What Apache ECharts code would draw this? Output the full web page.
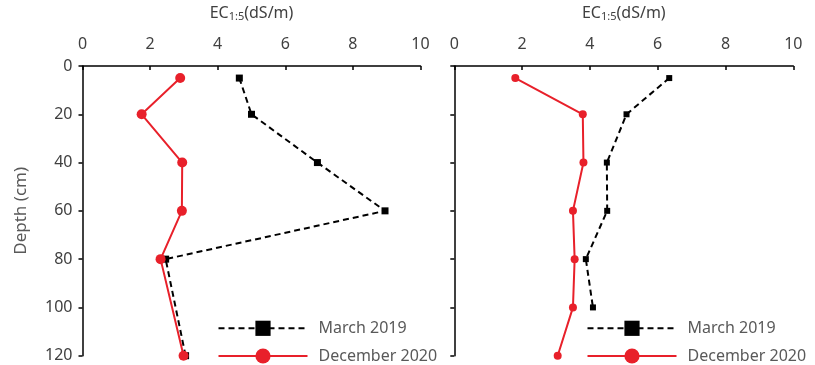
<!DOCTYPE html>
<html><head><meta charset="utf-8">
<script src="https://cdn.jsdelivr.net/npm/echarts@6/dist/echarts.min.js"></script>
<style>html,body{margin:0;padding:0;background:#fff}#c{width:815px;height:365px}</style>
</head><body><div id="c"></div>
<script>
// Data
const xTicks = [0, 2, 4, 6, 8, 10];
const depthTicks = [0, 20, 40, 60, 80, 100, 120];
const leftMarchDepth = [5, 20, 40, 60, 80, 120];
const leftMarchEC = [4.64, 5.0, 6.95, 8.95, 2.46, 3.05];
const leftDecDepth = [5, 20, 40, 60, 80, 120];
const leftDecEC = [2.89, 1.75, 2.95, 2.94, 2.31, 2.99];
const rightMarchDepth = [5, 20, 40, 60, 80, 100];
const rightMarchEC = [6.34, 5.08, 4.5, 4.51, 3.88, 4.09];
const rightDecDepth = [5, 20, 40, 60, 80, 100, 120];
const rightDecEC = [1.80, 3.79, 3.81, 3.50, 3.55, 3.50, 3.05];
const seriesNames = ['March 2019', 'December 2020'];

const FONT = '"Noto Sans", sans-serif';
const TXT = '#404040';
const RED = '#E8202A';

function pairs(ec, d) { return ec.map((v, i) => [v, d[i]]); }

function xAxis(gi) {
  return {
    gridIndex: gi, type: 'value', position: 'top', min: xTicks[0], max: xTicks[xTicks.length - 1], interval: 2,
    name: 'EC{sub|1:5}(dS/m)', nameLocation: 'middle', nameGap: 44,
    nameTextStyle: { color: TXT, fontFamily: FONT, fontSize: 16, rich: { sub: { fontSize: 11, verticalAlign: 'bottom', padding: [6, 0, 0, 0], color: TXT, fontFamily: FONT } } },
    axisLine: { lineStyle: { color: '#000', width: 1.5 } },
    axisTick: { inside: true, length: 4, lineStyle: { color: '#000', width: 1.5 } },
    axisLabel: { color: TXT, fontFamily: FONT, fontSize: 16, margin: 14 },
    splitLine: { show: false }
  };
}
function yAxis(gi, showLabels) {
  return {
    gridIndex: gi, type: 'value', inverse: true, min: 0, max: 120, interval: 20,
    name: showLabels ? 'Depth (cm)' : '', nameLocation: 'middle', nameGap: 53,
    nameTextStyle: { color: '#595959', fontFamily: FONT, fontSize: 17 },
    axisLine: { show: true, lineStyle: { color: '#000', width: 1.5 } },
    axisTick: { show: true, inside: false, length: 4, lineStyle: { color: '#000', width: 1.5 } },
    axisLabel: { show: showLabels, color: TXT, fontFamily: FONT, fontSize: 16, margin: 10 },
    splitLine: { show: false }
  };
}
function legend(left) {
  return { orient: 'vertical', left: left, top: 318.8, height: 120, padding: 0, itemWidth: 89, itemHeight: 19, itemGap: 8.7,
    data: seriesNames, selectedMode: false,
    textStyle: { color: '#595959', fontFamily: FONT, fontSize: 16, lineHeight: 19, padding: [0, 0, 0, 6] } };
}

const option = {
  animation: false,
  grid: [
    { left: 82.5, right: 394.5, top: 66, bottom: 9.3 },
    { left: 454.3, right: 21.7, top: 66, bottom: 9.3 }
  ],
  xAxis: [xAxis(0), xAxis(1)],
  yAxis: [yAxis(0, true), yAxis(1, false)],
  legend: [legend(217.5), legend(586.5)],
  series: [
    { name: seriesNames[0], type: 'line', xAxisIndex: 0, yAxisIndex: 0, data: pairs(leftMarchEC, leftMarchDepth),
      symbol: 'rect', symbolSize: 7, itemStyle: { color: '#000' }, lineStyle: { color: '#000', width: 2, type: [6, 4] }, clip: false, z: 3 },
    { name: seriesNames[1], type: 'line', xAxisIndex: 0, yAxisIndex: 0, data: pairs(leftDecEC, leftDecDepth),
      symbol: 'circle', symbolSize: 10, itemStyle: { color: RED }, lineStyle: { color: RED, width: 2 }, clip: false, z: 4 },
    { name: seriesNames[0], type: 'line', xAxisIndex: 1, yAxisIndex: 1, data: pairs(rightMarchEC, rightMarchDepth),
      symbol: 'rect', symbolSize: 6, itemStyle: { color: '#000' }, lineStyle: { color: '#000', width: 2, type: [6, 4] }, clip: false, z: 3 },
    { name: seriesNames[1], type: 'line', xAxisIndex: 1, yAxisIndex: 1, data: pairs(rightDecEC, rightDecDepth),
      symbol: 'circle', symbolSize: 8, itemStyle: { color: RED }, lineStyle: { color: RED, width: 2 }, clip: false, z: 4 }
  ]
};
const chart = echarts.init(document.getElementById('c'), null, { renderer: 'canvas' });
chart.setOption(option);
</script></body></html>
